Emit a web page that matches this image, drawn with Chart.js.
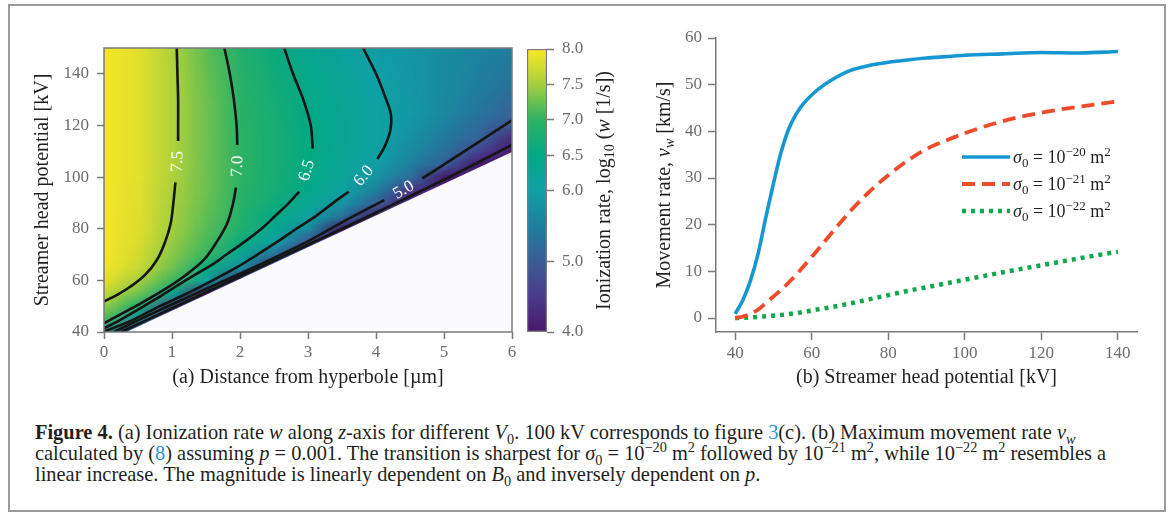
<!DOCTYPE html>
<html lang="en">
<head>
<meta charset="utf-8">
<title>Figure 4</title>
<script src="https://cdn.jsdelivr.net/npm/chart.js@4.4.1/dist/chart.umd.min.js"></script>
<style>
  html, body { margin: 0; padding: 0; background: #fff; }
  body { width: 1171px; height: 513px; position: relative; overflow: hidden; }
  #frame { position: absolute; left: 8px; top: 4px; width: 1158px; height: 508px; box-sizing: border-box; border: 2px solid #9a9a9a; }
  canvas { position: absolute; top: 0; }
  #rateChart { left: 0; }
  #scaleBar { left: 500px; }
  #speedChart { left: 630px; }
  .caption { position: absolute; left: 35px; top: 422px; font-family: "Liberation Serif", serif; font-size: 20.4px; line-height: 21px; color: #231f20; white-space: nowrap; }
  .caption sub, .caption sup { font-size: 70%; line-height: 0; }
  .caption .ref { color: #2a93d5; }
</style>
</head>
<body>
<div id="frame"></div>
<canvas id="rateChart" width="560" height="400"></canvas>
<canvas id="scaleBar" width="160" height="400"></canvas>
<canvas id="speedChart" width="541" height="400"></canvas>
<div class="caption">
  <b>Figure 4.</b> (a) Ionization rate <i>w</i> along <i>z</i>-axis for different <i>V</i><sub>0</sub>. 100 kV corresponds to figure <span class="ref">3</span>(c). (b) Maximum movement rate <i>v<sub>w</sub></i><br>
  calculated by (<span class="ref">8</span>) assuming <i>p</i> = 0.001. The transition is sharpest for <i>σ</i><sub>0</sub> = 10<sup>−20</sup> m<sup>2</sup> followed by 10<sup>−21</sup> m<sup>2</sup>, while 10<sup>−22</sup> m<sup>2</sup> resembles a<br>
  linear increase. The magnitude is linearly dependent on <i>B</i><sub>0</sub> and inversely dependent on <i>p</i>.
</div>
<script>
Chart.defaults.font.family = "'Liberation Serif', 'Times New Roman', serif";
Chart.defaults.font.size = 17;
Chart.defaults.color = "#6d6d6d";
Chart.defaults.animation = false;
Chart.defaults.responsive = false;
Chart.defaults.devicePixelRatio = 1;
Chart.defaults.plugins.legend.display = false;
Chart.defaults.plugins.tooltip.enabled = false;

/* =========================
   DATA - PANEL (a)
========================= */
const distances = [0, 0.5, 1, 1.5, 2, 2.5, 3, 3.5, 4, 4.5, 5, 5.5, 6];
const potentials = [40, 45, 50, 55, 60, 65, 70, 75, 80, 85, 90, 95, 100, 105, 110, 115, 120, 125, 130, 135, 140, 145, 150];

// log10(w), one row per potential, one column per distance (null = no data)
const rateRows = [
  [6.0, null, null, null, null, null, null, null, null, null, null, null, null],
  [7.1, 5.6, null, null, null, null, null, null, null, null, null, null, null],
  [7.4, 6.77, 4.7, null, null, null, null, null, null, null, null, null, null],
  [7.65, 7.27, 6.32, 3.9, null, null, null, null, null, null, null, null, null],
  [7.85, 7.5, 7.06, 6.13, null, null, null, null, null, null, null, null, null],
  [7.92, 7.7, 7.27, 6.56, 5.78, null, null, null, null, null, null, null, null],
  [7.95, 7.76, 7.37, 7.03, 6.28, 5.27, null, null, null, null, null, null, null],
  [7.95, 7.8, 7.43, 7.11, 6.59, 6.05, 4.9, null, null, null, null, null, null],
  [7.95, 7.82, 7.48, 7.17, 6.84, 6.33, 5.64, 3.9, null, null, null, null, null],
  [7.95, 7.83, 7.49, 7.2, 6.89, 6.52, 6.1, 5.32, null, null, null, null, null],
  [7.95, 7.84, 7.51, 7.23, 6.94, 6.63, 6.28, 5.81, 5.06, null, null, null, null],
  [7.95, 7.84, 7.52, 7.25, 6.97, 6.71, 6.45, 6.08, 5.5, 4.45, null, null, null],
  [7.95, 7.85, 7.55, 7.25, 6.98, 6.74, 6.5, 6.2, 5.8, 5.24, 3.95, null, null],
  [7.95, 7.85, 7.57, 7.26, 6.98, 6.75, 6.52, 6.25, 5.95, 5.5, 5.03, 3.9, null],
  [7.95, 7.85, 7.56, 7.26, 6.98, 6.75, 6.53, 6.29, 6.04, 5.66, 5.28, 4.65, 3.9],
  [7.95, 7.85, 7.56, 7.26, 6.98, 6.75, 6.53, 6.3, 6.08, 5.77, 5.42, 5.07, 4.25],
  [7.95, 7.85, 7.56, 7.26, 6.97, 6.75, 6.52, 6.3, 6.09, 5.83, 5.53, 5.22, 4.85],
  [7.95, 7.85, 7.56, 7.26, 6.97, 6.73, 6.5, 6.29, 6.09, 5.88, 5.62, 5.36, 5.1],
  [7.95, 7.85, 7.56, 7.25, 6.96, 6.71, 6.47, 6.27, 6.06, 5.87, 5.65, 5.43, 5.2],
  [7.95, 7.85, 7.56, 7.24, 6.94, 6.68, 6.44, 6.24, 6.03, 5.85, 5.67, 5.48, 5.3],
  [7.95, 7.85, 7.56, 7.23, 6.92, 6.65, 6.41, 6.2, 6.0, 5.84, 5.68, 5.52, 5.35],
  [7.95, 7.85, 7.55, 7.21, 6.9, 6.62, 6.38, 6.17, 5.97, 5.83, 5.68, 5.54, 5.4],
  [7.95, 7.85, 7.55, 7.19, 6.87, 6.58, 6.35, 6.13, 5.95, 5.83, 5.7, 5.58, 5.45]
];

const distanceTicks = [0, 1, 2, 3, 4, 5, 6];
const potentialTicks = [40, 60, 80, 100, 120, 140];
const colorbarTicks = [4, 5, 6, 6.5, 7, 7.5, 8];

// contour lines [distance, potential], split where the label sits
const contourLevels = ["7.5", "7.0", "6.5", "6.0", "5.0", "4.0"];
const contour75 = [
  [[1.07, 150], [1.08, 140], [1.09, 130], [1.09, 120], [1.09, 114]],
  [[1.05, 98], [1.02, 90], [0.98, 82], [0.9, 75], [0.78, 68], [0.6, 62], [0.39, 57.6], [0.2, 54.5], [0, 51.8]]
];
const contour70 = [
  [[1.77, 150], [1.85, 140], [1.91, 130], [1.95, 120], [1.96, 112.4]],
  [[1.94, 96], [1.9, 90], [1.81, 82], [1.66, 75], [1.47, 68], [1.2, 62], [0.88, 56.3], [0.5, 50.5], [0.11, 45], [0, 43.4]]
];
const contour65 = [
  [[2.65, 150], [2.78, 140], [2.93, 130], [3.04, 120], [3.07, 111]],
  [[2.87, 94.4], [2.72, 90], [2.52, 85], [2.35, 80.8], [2.07, 75], [1.8, 70], [1.62, 66.6], [1.2, 60], [0.74, 52.4], [0.26, 45], [0, 41.4]]
];
const contour60 = [
  [[3.81, 150], [4.0, 140], [4.15, 130], [4.22, 124], [4.21, 118], [4.13, 112], [4.02, 107]],
  [[3.6, 94.4], [3.37, 90], [3.12, 85], [2.83, 80], [2.55, 75], [2.21, 69.2], [1.95, 65], [1.6, 60], [1.23, 55], [0.82, 50], [0.45, 45], [0, 40.1]]
];
const contour50 = [
  [[6, 122], [5.68, 116.5], [5.36, 111], [5.02, 105.2], [4.68, 99.5]],
  [[4.12, 91.1], [3.5, 82.5], [2.94, 74.3], [2.2, 65], [1.47, 56.3], [0.8, 48.3], [0.15, 40.1]]
];
const contour40 = [
  [[6, 112.5], [5, 99], [4, 86.2], [3, 73.8], [2, 61.5], [1, 49.2], [0.25, 40]]
];
const contourSets = [contour75, contour70, contour65, contour60, contour50, contour40];

// edge of the computed region (white below)
const boundaryLine = [[0.33, 40], [6, 109.7]];

/* =========================
   DATA - PANEL (b)
========================= */
const headPotential = [40, 42, 44, 46, 48, 50, 52, 54, 56, 58, 60, 62, 65, 70, 75, 80, 85, 90, 95, 100, 110, 120, 130, 140];
const speedSigma20 = [0.9, 3.8, 8, 13.8, 21.5, 28.8, 35.5, 40.5, 43.8, 46.1, 47.8, 49.2, 50.9, 53, 54.1, 54.8, 55.3, 55.7, 56, 56.3, 56.6, 56.9, 56.8, 57.1];
const speedSigma21 = [0, 0.3, 0.9, 1.8, 3.2, 4.6, 6, 7.6, 9.3, 11.2, 13.1, 15, 18, 22.8, 27, 30.6, 33.7, 36.2, 38, 39.6, 42.2, 44, 45.3, 46.4];
const speedSigma22 = [0, 0.05, 0.15, 0.25, 0.4, 0.5, 0.65, 0.85, 1.05, 1.3, 1.6, 1.9, 2.3, 3.1, 4, 4.9, 5.8, 6.6, 7.4, 8.2, 9.8, 11.3, 12.8, 14.2];
const headTicks = [40, 60, 80, 100, 120, 140];
const speedTicks = [0, 10, 20, 30, 40, 50, 60];

const legendLabels = [
  [{ t: "σ", i: true }, { t: "0", sub: true }, { t: " = 10" }, { t: "−20", sup: true }, { t: " m" }, { t: "2", sup: true }],
  [{ t: "σ", i: true }, { t: "0", sub: true }, { t: " = 10" }, { t: "−21", sup: true }, { t: " m" }, { t: "2", sup: true }],
  [{ t: "σ", i: true }, { t: "0", sub: true }, { t: " = 10" }, { t: "−22", sup: true }, { t: " m" }, { t: "2", sup: true }]
];
const speedTitle = [{ t: "Movement rate, " }, { t: "v", i: true }, { t: "w", i: true, sub: true }, { t: " [km/s]" }];
const colorbarTitle = [{ t: "Ionization rate, log" }, { t: "10", sub: true }, { t: " (" }, { t: "w", i: true }, { t: " [1/s])" }];

/* =========================
   HELPERS
========================= */
const axisGray = "#7a7a7a";
const inkColor = "#231f20";
// colour map as printed in the figure (viridis-like), keyed by log10(w)
const colorStops = [
  [4.0, "#48186b"], [4.5, "#4a3a8b"], [5.0, "#3a5c98"], [5.5, "#1e7f9d"],
  [6.0, "#10a1a7"], [6.5, "#03a884"], [7.0, "#2db264"], [7.5, "#a6cf3d"], [8.0, "#fde725"]
];
const stopRgb = colorStops.map(([, h]) => [1, 3, 5].map(k => parseInt(h.slice(k, k + 2), 16)));

function rateColor(v) {
  const lo = colorStops[0][0];
  const hi = colorStops[colorStops.length - 1][0];
  const t = Math.min(hi, Math.max(lo, v));
  let i = 0;
  while (i < colorStops.length - 2 && t > colorStops[i + 1][0]) i++;
  const f = (t - colorStops[i][0]) / (colorStops[i + 1][0] - colorStops[i][0]);
  return stopRgb[i].map((c, k) => Math.round(c + (stopRgb[i + 1][k] - c) * f));
}

function fixedTicks(values) {
  return scale => { scale.ticks = values.map(value => ({ value })); };
}

function drawRichText(ctx, parts, x, y, size, angle, align) {
  const fontOf = p => (p.i ? "italic " : "") + (p.sub || p.sup ? Math.round(size * 0.7) : size) + "px 'Liberation Serif', serif";
  ctx.save();
  ctx.translate(x, y);
  ctx.rotate(angle);
  ctx.textBaseline = "alphabetic";
  let width = 0;
  parts.forEach(p => { ctx.font = fontOf(p); width += ctx.measureText(p.t).width; });
  let cx = align === "center" ? -width / 2 : 0;
  const base = size * 0.33;
  parts.forEach(p => {
    ctx.font = fontOf(p);
    const dy = p.sub ? size * 0.22 : p.sup ? -size * 0.38 : 0;
    ctx.fillText(p.t, cx, base + dy);
    cx += ctx.measureText(p.t).width;
  });
  ctx.restore();
}

/* =========================
   PANEL (a) - HEATMAP + CONTOURS
========================= */
const heatmapPlugin = {
  id: "heatmap",
  beforeDatasetsDraw(chart) {
    const { ctx, chartArea, scales } = chart;
    const cols = distances.length;
    const rows = potentials.length;
    const grid = document.createElement("canvas");
    grid.width = cols;
    grid.height = rows;
    const gctx = grid.getContext("2d");
    const img = gctx.createImageData(cols, rows);
    rateRows.forEach((row, r) => {
      row.forEach((v, c) => {
        const rgb = rateColor(v === null ? 4 : v);
        const k = ((rows - 1 - r) * cols + c) * 4;
        img.data[k] = rgb[0];
        img.data[k + 1] = rgb[1];
        img.data[k + 2] = rgb[2];
        img.data[k + 3] = 255;
      });
    });
    gctx.putImageData(img, 0, 0);

    const stepX = distances[1] - distances[0];
    const stepY = potentials[1] - potentials[0];
    const left = scales.x.getPixelForValue(distances[0] - stepX / 2);
    const right = scales.x.getPixelForValue(distances[cols - 1] + stepX / 2);
    const top = scales.y.getPixelForValue(potentials[rows - 1] + stepY / 2);
    const bottom = scales.y.getPixelForValue(potentials[0] - stepY / 2);

    ctx.save();
    ctx.beginPath();
    ctx.rect(chartArea.left, chartArea.top, chartArea.width, chartArea.height);
    ctx.clip();
    ctx.imageSmoothingEnabled = true;
    ctx.drawImage(grid, left, top, right - left, bottom - top);
    ctx.restore();
  }
};

const contourLabelPlugin = {
  id: "contourLabels",
  afterDatasetsDraw(chart) {
    const { ctx, chartArea, scales } = chart;
    ctx.save();
    ctx.fillStyle = "#ffffff";
    ctx.font = "17px 'Liberation Serif', serif";
    ctx.textAlign = "center";
    ctx.textBaseline = "middle";
    contourSets.forEach((segments, n) => {
      if (segments.length < 2) return;
      const a = segments[0][segments[0].length - 1];
      const b = segments[1][0];
      const ax = scales.x.getPixelForValue(a[0]);
      const ay = scales.y.getPixelForValue(a[1]);
      const bx = scales.x.getPixelForValue(b[0]);
      const by = scales.y.getPixelForValue(b[1]);
      let angle = Math.atan2(by - ay, bx - ax);
      if (angle > Math.PI / 2) angle -= Math.PI;
      if (angle < -Math.PI / 2) angle += Math.PI;
      ctx.save();
      ctx.translate((ax + bx) / 2, (ay + by) / 2);
      ctx.rotate(angle);
      ctx.fillText(contourLevels[n], 0, 1);
      ctx.restore();
    });
    ctx.strokeStyle = axisGray;
    ctx.lineWidth = 1.5;
    ctx.strokeRect(chartArea.left, chartArea.top, chartArea.width, chartArea.height);
    ctx.restore();
  }
};

const contourDatasets = [];
contourSets.forEach((segments, n) => {
  segments.forEach(seg => {
    contourDatasets.push({
      label: contourLevels[n],
      data: seg.map(([x, y]) => ({ x, y })),
      borderColor: "#151515",
      borderWidth: 2.6,
      pointRadius: 0,
      tension: 0.35,
      fill: false,
      order: 0
    });
  });
});

new Chart(document.getElementById("rateChart"), {
  type: "line",
  data: {
    datasets: [
      ...contourDatasets,
      {
        label: "no data",
        data: boundaryLine.map(([x, y]) => ({ x, y })),
        borderColor: "transparent",
        borderWidth: 0,
        pointRadius: 0,
        fill: "start",
        backgroundColor: "#fbfbfd",
        order: 10
      }
    ]
  },
  options: {
    layout: { padding: { left: 0, top: 48, right: 48, bottom: 0 } },
    scales: {
      x: {
        type: "linear",
        min: 0,
        max: 6,
        afterBuildTicks: fixedTicks(distanceTicks),
        afterFit: scale => { scale.height = 68; },
        ticks: { padding: 3 },
        grid: { drawOnChartArea: false, tickLength: 7, tickWidth: 1.5, tickColor: axisGray },
        border: { display: false },
        title: { display: true, text: "(a) Distance from hyperbole [µm]", color: inkColor, font: { size: 20 }, padding: { top: 0, bottom: 10 } }
      },
      y: {
        type: "linear",
        min: 40,
        max: 150,
        afterBuildTicks: fixedTicks(potentialTicks),
        afterFit: scale => { scale.width = 104; },
        ticks: { padding: 8 },
        grid: { drawOnChartArea: false, tickLength: 7, tickWidth: 1.5, tickColor: axisGray },
        border: { display: false },
        title: { display: true, text: "Streamer head potential [kV]", color: inkColor, font: { size: 20 }, padding: { top: 31, bottom: 0 } }
      }
    }
  },
  plugins: [heatmapPlugin, contourLabelPlugin]
});

/* =========================
   PANEL (a) - COLORBAR
========================= */
function colorbarGradient(chart) {
  const { ctx, chartArea, scales } = chart;
  if (!chartArea) return colorStops[0][1];
  const lo = colorStops[0][0];
  const hi = colorStops[colorStops.length - 1][0];
  const g = ctx.createLinearGradient(0, scales.y.getPixelForValue(lo), 0, scales.y.getPixelForValue(hi));
  colorStops.forEach(([v, c]) => g.addColorStop((v - lo) / (hi - lo), c));
  return g;
}

const colorbarTitlePlugin = {
  id: "colorbarTitle",
  afterDraw(chart) {
    const { ctx, chartArea } = chart;
    ctx.fillStyle = inkColor;
    drawRichText(ctx, colorbarTitle, 103, (chartArea.top + chartArea.bottom) / 2, 20, -Math.PI / 2, "center");
  }
};

new Chart(document.getElementById("scaleBar"), {
  type: "bar",
  data: {
    labels: [""],
    datasets: [{
      data: [[colorbarTicks[0], colorbarTicks[colorbarTicks.length - 1]]],
      backgroundColor: c => colorbarGradient(c.chart),
      borderColor: axisGray,
      borderWidth: 1.5,
      borderSkipped: false,
      barPercentage: 1,
      categoryPercentage: 1
    }]
  },
  options: {
    layout: { padding: { left: 27, top: 49, right: 0, bottom: 68 } },
    scales: {
      x: { display: false },
      y: {
        position: "right",
        min: 4,
        max: 8,
        afterBuildTicks: fixedTicks(colorbarTicks),
        afterFit: scale => { scale.width = 113; },
        ticks: { padding: 8, callback: v => v.toFixed(1) },
        grid: { drawOnChartArea: false, tickLength: 7, tickWidth: 1.5, tickColor: axisGray },
        border: { display: false }
      }
    }
  },
  plugins: [colorbarTitlePlugin]
});

/* =========================
   PANEL (b) - MOVEMENT RATE
========================= */
const speedPlugin = {
  id: "speedExtras",
  afterDraw(chart) {
    const { ctx, chartArea } = chart;
    ctx.fillStyle = inkColor;
    drawRichText(ctx, speedTitle, 33, (chartArea.top + chartArea.bottom) / 2, 20, -Math.PI / 2, "center");

    chart.data.datasets.forEach((ds, n) => {
      const x = chartArea.left + 246;
      const y = chartArea.top + 119 + n * 27;
      ctx.save();
      ctx.strokeStyle = ds.borderColor;
      ctx.lineWidth = ds.borderWidth;
      ctx.setLineDash(ds.borderDash || []);
      ctx.beginPath();
      ctx.moveTo(x, y);
      ctx.lineTo(x + 48, y);
      ctx.stroke();
      ctx.restore();
      ctx.fillStyle = inkColor;
      drawRichText(ctx, legendLabels[n], x + 51, y, 18, 0, "left");
    });
  }
};

const toPoints = values => headPotential.map((x, i) => ({ x, y: values[i] }));

new Chart(document.getElementById("speedChart"), {
  type: "line",
  data: {
    datasets: [
      { label: "sigma 1e-20", data: toPoints(speedSigma20), borderColor: "#1697d1", borderWidth: 3.6, pointRadius: 0, cubicInterpolationMode: "monotone" },
      { label: "sigma 1e-21", data: toPoints(speedSigma21), borderColor: "#ef4a29", borderWidth: 3.8, borderDash: [13, 7], pointRadius: 0, cubicInterpolationMode: "monotone" },
      { label: "sigma 1e-22", data: toPoints(speedSigma22), borderColor: "#12a74c", borderWidth: 4.5, borderDash: [4, 5], pointRadius: 0, cubicInterpolationMode: "monotone" }
    ]
  },
  options: {
    layout: { padding: { left: 0, top: 38, right: 34, bottom: 0 } },
    scales: {
      x: {
        type: "linear",
        min: 35,
        max: 145,
        afterBuildTicks: fixedTicks(headTicks),
        afterFit: scale => { scale.height = 68; },
        ticks: { padding: 3 },
        grid: { drawOnChartArea: false, tickLength: 8, tickWidth: 1.5, tickColor: axisGray },
        border: { display: true, color: axisGray, width: 1.5 },
        title: { display: true, text: "(b) Streamer head potential [kV]", color: inkColor, font: { size: 20 }, padding: { top: 0, bottom: 10 } }
      },
      y: {
        type: "linear",
        min: -3,
        max: 60,
        afterBuildTicks: fixedTicks(speedTicks),
        afterFit: scale => { scale.width = 86; },
        ticks: { padding: 6 },
        grid: { drawOnChartArea: false, tickLength: 8, tickWidth: 1.5, tickColor: axisGray },
        border: { display: true, color: axisGray, width: 1.5 }
      }
    }
  },
  plugins: [speedPlugin]
});
</script>
</body>
</html>
